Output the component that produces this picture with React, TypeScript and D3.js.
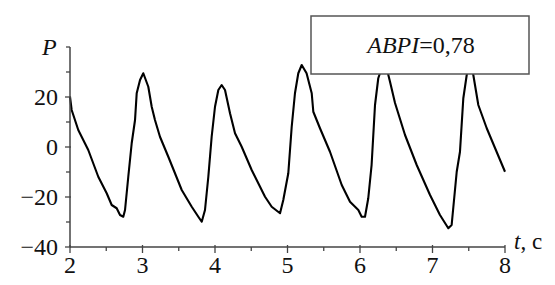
import React from 'react';
import * as d3 from 'd3';

// time, s
const timeValues = [
    2.0, 2.023, 2.114, 2.252, 2.39, 2.506, 2.575, 2.644, 2.69, 2.735, 2.759, 2.804, 2.851, 2.897, 2.92, 2.966,
    3.011, 3.08, 3.127, 3.172, 3.241, 3.356, 3.541, 3.679, 3.77, 3.817, 3.862, 3.908, 3.954, 4.0, 4.046,
    4.092, 4.138, 4.207, 4.276, 4.368, 4.506, 4.69, 4.782, 4.897, 4.942, 5.011, 5.058, 5.103, 5.149,
    5.196, 5.263, 5.334, 5.356, 5.448, 5.586, 5.748, 5.862, 5.977, 6.023, 6.069, 6.114, 6.16, 6.207,
    6.252, 6.299, 6.333, 6.368, 6.414, 6.483, 6.621, 6.782, 6.966, 7.103, 7.218, 7.264, 7.334, 7.379,
    7.425, 7.472, 7.517, 7.563, 7.632, 7.748, 8.0,
];

// pressure P
const pressureValues = [
    20.1, 14.8, 6.8, -1.2, -11.9, -18.5, -23.2, -24.5, -27.2, -27.9, -25.2, -11.9, 1.5, 10.8, 21.5, 26.8,
    29.5, 24.1, 16.1, 10.8, 4.1, -3.9, -17.2, -23.9, -27.9, -29.9, -25.2, -11.9, 4.1, 16.1, 22.8,
    24.8, 22.8, 13.5, 5.5, 0.1, -9.2, -19.9, -23.9, -26.5, -21.2, -10.5, 8.1, 21.5, 29.5,
    32.8, 29.5, 21.5, 14.1, 7.5, -1.9, -15.2, -21.9, -25.2, -27.9, -27.9, -20.5, -7.2, 16.8,
    27.5, 31.5, 35.0, 31.5, 26.1, 17.6, 4.8, -7.2, -19.2, -27.2, -32.5, -31.2, -9.9, -1.9,
    19.5, 28.8, 35.0, 28.8, 16.8, 7.5, -9.9,
];

const xMajorTicks = [2, 3, 4, 5, 6, 7, 8];
const xMinorTicks = [2.5, 3.5, 4.5, 5.5, 6.5, 7.5];
const yMajorTicks = [-40, -20, 0, 20];
const yMinorTicks = [-30, -10, 10, 30, 40];

const indexLabel = 'ABPI';
const indexValue = '=0,78';

const App: React.FC = () => {
    const width = 555;
    const height = 285;
    const fontStyle = { fontFamily: "'Liberation Serif', 'DejaVu Serif', serif" };
    const axisColor = '#444';

    const x = d3.scaleLinear().domain([2, 8]).range([70, 505]);
    const y = d3.scaleLinear().domain([-40, 40]).range([247, 47]);

    const points = timeValues.map((t, i) => [t, pressureValues[i]] as [number, number]);
    const line = d3.line<[number, number]>()
        .x(d => x(d[0]))
        .y(d => y(d[1]));

    return (
        <svg width={width} height={height} style={{ position: 'absolute', left: 0, top: 0 }}>
            <rect width={width} height={height} fill="#fff" />

            {/* curve */}
            <path d={line(points) || undefined} fill="none" stroke="#000" strokeWidth={2.1} strokeLinejoin="round" />

            {/* axes */}
            <line x1={x(2)} x2={x(8)} y1={y(-40)} y2={y(-40)} stroke={axisColor} strokeWidth={1.5} />
            <line x1={x(2)} x2={x(2)} y1={y(-40)} y2={y(40)} stroke={axisColor} strokeWidth={1.5} />

            {xMajorTicks.map(t => (
                <g key={'xm' + t}>
                    <line x1={x(t)} x2={x(t)} y1={y(-40) - 2} y2={y(-40) + 6} stroke={axisColor} strokeWidth={1.3} />
                    <text x={x(t)} y={273} textAnchor="middle" style={fontStyle} fontSize={24} fill="#111">{t}</text>
                </g>
            ))}
            {xMinorTicks.map(t => (
                <line key={'xn' + t} x1={x(t)} x2={x(t)} y1={y(-40)} y2={y(-40) + 4} stroke={axisColor} strokeWidth={1.3} />
            ))}

            {yMajorTicks.map(v => (
                <g key={'ym' + v}>
                    <line x1={x(2) - 5} x2={x(2) + 1} y1={y(v)} y2={y(v)} stroke={axisColor} strokeWidth={1.3} />
                    <text x={58} y={y(v) + 8} textAnchor="end" style={fontStyle} fontSize={24} fill="#111">
                        {v < 0 ? '\u2212' + Math.abs(v) : v}
                    </text>
                </g>
            ))}
            {yMinorTicks.map(v => (
                <line key={'yn' + v} x1={x(2) - 4} x2={x(2)} y1={y(v)} y2={y(v)} stroke={axisColor} strokeWidth={1.3} />
            ))}

            {/* axis titles */}
            <text x={42} y={55} style={fontStyle} fontSize={24} fontStyle="italic" fill="#111">P</text>
            <text x={514} y={249} style={fontStyle} fontSize={23} fill="#111">
                <tspan fontStyle="italic">t</tspan>, c
            </text>

            {/* index box */}
            <rect x={311} y={16} width={218} height={58} fill="#fff" stroke="#555" strokeWidth={1.5} />
            <text x={421} y={53} textAnchor="middle" style={fontStyle} fontSize={24} fill="#111">
                <tspan fontStyle="italic">{indexLabel}</tspan>{indexValue}
            </text>
        </svg>
    );
};

export default App;
